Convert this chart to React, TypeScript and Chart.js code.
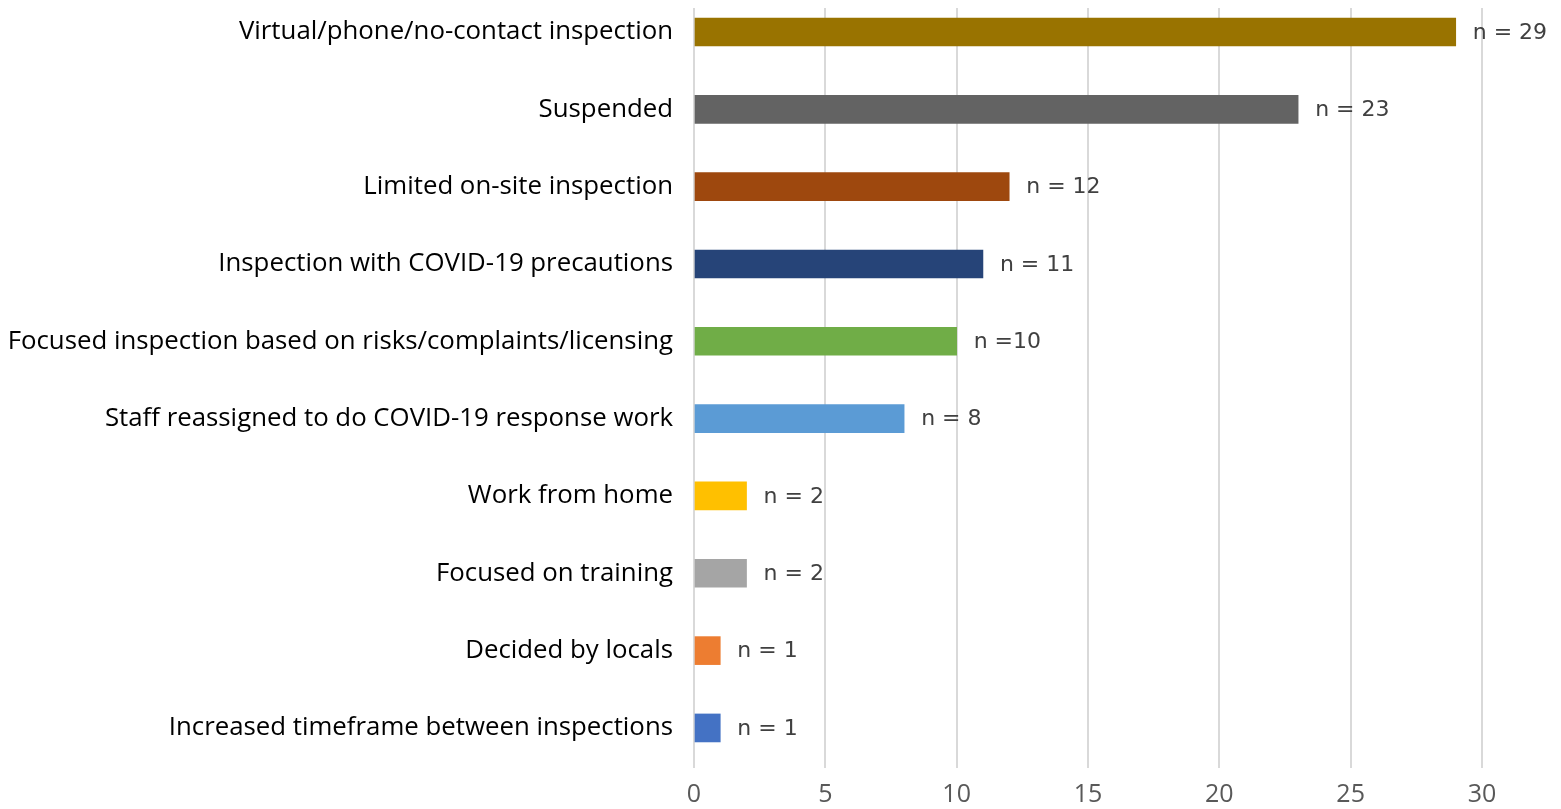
import React, { useEffect, useRef } from "react";
import { Chart, registerables } from "chart.js";

Chart.register(...registerables);

const categories = [
  "Virtual/phone/no-contact inspection",
  "Suspended",
  "Limited on-site inspection",
  "Inspection with COVID-19 precautions",
  "Focused inspection based on risks/complaints/licensing",
  "Staff reassigned to do COVID-19 response work",
  "Work from home",
  "Focused on training",
  "Decided by locals",
  "Increased timeframe between inspections",
];

const counts = [29, 23, 12, 11, 10, 8, 2, 2, 1, 1];

const valueLabels = ["n = 29", "n = 23", "n = 12", "n = 11", "n =10", "n = 8", "n = 2", "n = 2", "n = 1", "n = 1"];

const barColors = [
  "#997300",
  "#636363",
  "#9e480e",
  "#264478",
  "#70ad47",
  "#5b9bd5",
  "#ffc000",
  "#a5a5a5",
  "#ed7d31",
  "#4472c4",
];

const xTicks = [0, 5, 10, 15, 20, 25, 30];

const FONT = "'Open Sans', sans-serif";
const VALUE_FONT = "'DejaVu Sans', sans-serif";

const valueLabelPlugin = {
  id: "valueLabels",
  afterDatasetsDraw(chart: any) {
    const ctx = chart.ctx;
    const meta = chart.getDatasetMeta(0);
    ctx.save();
    ctx.font = `22px ${VALUE_FONT}`;
    ctx.fillStyle = "#404040";
    ctx.textAlign = "left";
    ctx.textBaseline = "middle";
    meta.data.forEach((bar: any, i: number) => {
      ctx.fillText(valueLabels[i], bar.x + 17, bar.y + 1);
    });
    ctx.restore();
  },
};

export default function App() {
  const canvasRef = useRef<HTMLCanvasElement | null>(null);

  useEffect(() => {
    if (!canvasRef.current) return;
    const chart = new Chart(canvasRef.current, {
      type: "bar",
      data: {
        labels: categories,
        datasets: [
          {
            data: counts.map((v, i) => ({ x: v, y: i })) as any,
            backgroundColor: barColors,
            barThickness: 28,
          },
        ],
      },
      options: {
        indexAxis: "y",
        animation: false,
        responsive: true,
        maintainAspectRatio: false,
        layout: { padding: { top: 0, right: 71, bottom: 0, left: 0 } },
        plugins: {
          legend: { display: false },
          tooltip: { enabled: false },
        },
        scales: {
          x: {
            type: "linear",
            min: 0,
            max: 30,
            afterBuildTicks: (scale: any) => {
              scale.ticks = xTicks.map((v) => ({ value: v }));
            },
            grid: { color: "#d9d9d9", lineWidth: 2, drawTicks: false },
            border: { display: false },
            ticks: {
              padding: 12,
              color: "#595959",
              font: { family: FONT, size: 25 },
            },
            afterFit: (scale: any) => {
              scale.height = 41;
            },
          },
          y: {
            type: "linear",
            reverse: true,
            offset: false,
            min: -0.31,
            max: 9.518,
            afterBuildTicks: (scale: any) => {
              scale.ticks = categories.map((_, i) => ({ value: i }));
            },
            grid: { display: false, drawTicks: false, offset: false },
            border: { display: false },
            ticks: {
              padding: 21,
              color: "#000000",
              font: { family: FONT, size: 25.8 },
              callback: (v: any) => categories[Math.round(Number(v))] ?? "",
            },
            afterFit: (scale: any) => {
              scale.width = 686;
              scale.paddingTop = 0;
              scale.paddingBottom = 0;
            },
          },
        },
      },
      plugins: [valueLabelPlugin],
    });
    return () => chart.destroy();
  }, []);

  return (
    <div style={{ width: 1545, height: 801, position: "relative" }}>
      <canvas ref={canvasRef} />
    </div>
  );
}
